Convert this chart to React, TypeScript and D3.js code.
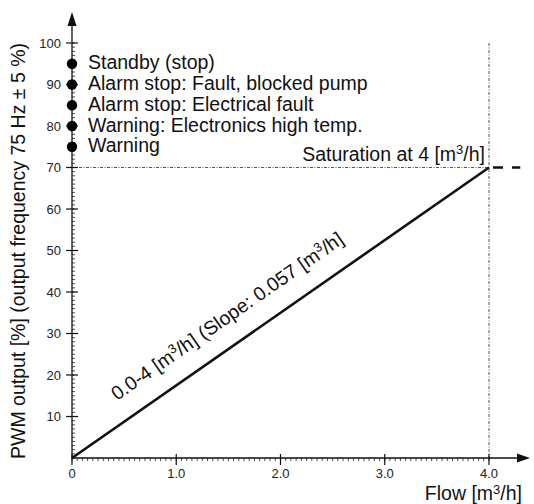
import React from "react";
import * as d3 from "d3";

const flowPoints = [0, 4];
const pwmPoints = [0, 70];
const saturationFlow = [4, 4.3];
const saturationPwm = [70, 70];
const statusLevels = [95, 90, 85, 80, 75];
const statusLabels = [
  "Standby (stop)",
  "Alarm stop: Fault, blocked pump",
  "Alarm stop: Electrical fault",
  "Warning: Electronics high temp.",
  "Warning",
];
const yTicks = [10, 20, 30, 40, 50, 60, 70, 80, 90, 100];
const xTicks = [0, 1, 2, 3, 4];
const xTickLabels = ["0", "1.0", "2.0", "3.0", "4.0"];

const W = 534;
const H = 504;
const FONT = "'Liberation Sans', Arial, sans-serif";
const FS = 19.5;
const SUP = 13;

export default function App() {
  const x = d3.scaleLinear().domain([0, 4]).range([72, 489]);
  const y = d3.scaleLinear().domain([0, 100]).range([458, 43]);
  const x0 = x(0);
  const y0 = y(0);

  const line = d3
    .line<number>()
    .x((_, i) => x(flowPoints[i]))
    .y((d) => y(d));

  const satLine = d3
    .line<number>()
    .x((_, i) => x(saturationFlow[i]))
    .y((d) => y(d));

  const xMinor = d3.range(0, 4.0001, 0.05);
  const yMinor = d3.range(0, 100.001, 1);

  const angle =
    (Math.atan2(y(pwmPoints[0]) - y(pwmPoints[1]), x(flowPoints[1]) - x(flowPoints[0])) * 180) /
    Math.PI;
  const labelX = x(1.64);
  const labelY = y(1.64 * (70 / 4));

  return (
    <svg
      width={W}
      height={H}
      style={{ position: "absolute", left: 0, top: 0, background: "#fff" }}
      fontFamily={FONT}
    >
      {/* reference lines */}
      <line
        x1={x0}
        x2={x(4)}
        y1={y(70)}
        y2={y(70)}
        stroke="#555"
        strokeWidth={1}
        strokeDasharray="3,1.5,1,1.5"
      />
      <line
        x1={x(4)}
        x2={x(4)}
        y1={y(100)}
        y2={y0}
        stroke="#555"
        strokeWidth={1}
        strokeDasharray="3,1.5,1,1.5"
      />

      {/* x minor ticks */}
      {xMinor.map((v, i) => (
        <line key={"xm" + i} x1={x(v)} x2={x(v)} y1={y0} y2={y0 + 3} stroke="#222" strokeWidth={0.8} />
      ))}
      {/* y minor ticks */}
      {yMinor.map((v, i) => (
        <line key={"ym" + i} x1={x0} x2={x0 + 3} y1={y(v)} y2={y(v)} stroke="#222" strokeWidth={0.8} />
      ))}

      {/* axes */}
      <line x1={x0} x2={518} y1={y0} y2={y0} stroke="#111" strokeWidth={1.3} />
      <path d={`M530,${y0} L517,${y0 - 4.5} L517,${y0 + 4.5} Z`} fill="#111" />
      <line x1={x0} x2={x0} y1={y0} y2={25} stroke="#111" strokeWidth={1.3} />
      <path d={`M${x0},12 L${x0 - 4.5},26 L${x0 + 4.5},26 Z`} fill="#111" />

      {/* major ticks */}
      {xTicks.map((v, i) => (
        <g key={"xt" + i}>
          <line x1={x(v)} x2={x(v)} y1={y0 - 4} y2={y0 + 7} stroke="#111" strokeWidth={1.2} />
          <text x={x(v)} y={y0 + 20} fontSize={13} textAnchor="middle" fill="#222">
            {xTickLabels[i]}
          </text>
        </g>
      ))}
      {yTicks.map((v, i) => (
        <g key={"yt" + i}>
          <line x1={x0 - 6} x2={x0 + 6} y1={y(v)} y2={y(v)} stroke="#111" strokeWidth={1.2} />
          <text x={x0 - 11} y={y(v) + 4.6} fontSize={13} textAnchor="end" fill="#222">
            {v}
          </text>
        </g>
      ))}

      {/* main line */}
      <path d={line(pwmPoints) || ""} fill="none" stroke="#111" strokeWidth={2.6} />
      <path
        d={satLine(saturationPwm) || ""}
        fill="none"
        stroke="#111"
        strokeWidth={2.6}
        strokeDasharray="0,4,10,9,10"
      />

      {/* status points */}
      {statusLevels.map((v, i) => (
        <g key={"s" + i}>
          <circle cx={x0} cy={y(v)} r={5.2} fill="#000" />
          <text x={x0 + 16} y={y(v) + 5.5} fontSize={FS} fill="#111">
            {statusLabels[i]}
          </text>
        </g>
      ))}

      {/* saturation label */}
      <text x={x(4) - 4} y={y(70) - 7} fontSize={FS} textAnchor="end" fill="#111">
        Saturation at 4 [m
        <tspan fontSize={SUP} dy={-7}>3</tspan>
        <tspan dy={7}>/h]</tspan>
      </text>

      {/* slope label */}
      <text
        transform={`translate(${labelX},${labelY}) rotate(${-angle})`}
        y={-21}
        fontSize={FS}
        textAnchor="middle"
        fill="#111"
      >
        0.0-4 [m<tspan fontSize={SUP} dy={-7}>3</tspan>
        <tspan dy={7}>/h] (Slope: 0.057 [m</tspan>
        <tspan fontSize={SUP} dy={-7}>3</tspan>
        <tspan dy={7}>/h]</tspan>
      </text>

      {/* axis titles */}
      <text
        transform={`translate(25,${(40 + 462) / 2}) rotate(-90)`}
        fontSize={FS}
        textAnchor="middle"
        fill="#111"
      >
        PWM output [%] (output frequency 75 Hz ± 5 %)
      </text>
      <text x={522} y={500} fontSize={FS} textAnchor="end" fill="#111">
        Flow [m<tspan fontSize={SUP} dy={-6}>3</tspan>
        <tspan dy={6}>/h]</tspan>
      </text>
    </svg>
  );
}
